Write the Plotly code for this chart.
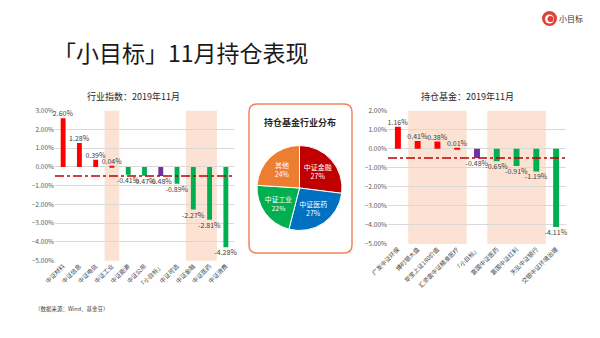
import plotly.graph_objects as go

# ---------------- data ----------------
left_cats = ["中证材料", "中证信息", "中证电信", "中证工业", "中证能源", "中证公用",
             "「小目标」", "中证可选", "中证金融", "中证医药", "中证消费"]
left_vals = [2.60, 1.28, 0.39, 0.04, -0.41, -0.47, -0.48, -0.89, -2.27, -2.81, -4.28]
left_shade = [3, 8, 9]

right_cats = ["广发中证环保", "博时银大盘", "华宝上证180价值", "汇添富中证精准医疗",
              "「小目标」", "富国中证医药", "富国中证红利", "天弘中证银行", "交银中证环境治理"]
right_vals = [1.16, 0.41, 0.38, 0.01, -0.48, -0.65, -0.91, -1.19, -4.11]
right_shade = [1, 2, 3, 5, 6, 7]

pie_labels = ["中证金融", "中证医药", "中证工业", "其他"]
pie_vals = [27, 27, 22, 24]
pie_colors = ["#C00000", "#0070C0", "#00B050", "#ED7D31"]

benchmark = -0.48
W, H = 600, 338
FONT = "Noto Sans CJK SC"

RED, GREEN, PURPLE = "#FF0000", "#00B050", "#7030A0"
SHADE = "#FBE2D3"


def bar_colors(cats, vals):
    out = []
    for c, v in zip(cats, vals):
        if c == "「小目标」":
            out.append(PURPLE)
        elif v >= 0:
            out.append(RED)
        else:
            out.append(GREEN)
    return out


def runs(idx):
    """group consecutive category indices into (start, end) runs"""
    out = []
    for i in sorted(idx):
        if out and i == out[-1][1] + 1:
            out[-1][1] = i
        else:
            out.append([i, i])
    return out


def px(x):
    return x / W


def py(y):
    return 1 - y / H


fig = go.Figure()

fig.add_trace(go.Bar(
    x=left_cats, y=left_vals, marker_color=bar_colors(left_cats, left_vals),
    width=0.3, text=[f"{v:.2f}%" for v in left_vals], textposition="outside",
    textfont=dict(size=7, color="#404040", family=FONT), cliponaxis=False,
    constraintext="none", xaxis="x", yaxis="y", showlegend=False, hoverinfo="skip"))

fig.add_trace(go.Bar(
    x=right_cats, y=right_vals, marker_color=bar_colors(right_cats, right_vals),
    width=0.3, text=[f"{v:.2f}%" for v in right_vals], textposition="outside",
    textfont=dict(size=7, color="#404040", family=FONT), cliponaxis=False,
    constraintext="none", xaxis="x2", yaxis="y2", showlegend=False, hoverinfo="skip"))

fig.add_trace(go.Pie(
    labels=pie_labels, values=pie_vals, sort=False, direction="clockwise", rotation=0,
    marker=dict(colors=pie_colors, line=dict(color="white", width=1)),
    texttemplate="%{label}<br>%{value}%", textposition="inside",
    insidetextorientation="horizontal",
    textfont=dict(size=7, color="white", family=FONT),
    domain=dict(x=[px(257), px(342)], y=[py(230.5), py(145.5)]),
    showlegend=False, hoverinfo="skip"))

shapes = []
# shaded bands
for a, b in runs(left_shade):
    shapes.append(dict(type="rect", xref="x", yref="y domain", x0=a - 0.45, x1=b + 0.45,
                       y0=0, y1=1, fillcolor=SHADE, line_width=0, layer="below"))
for a, b in runs(right_shade):
    shapes.append(dict(type="rect", xref="x2", yref="y2 domain", x0=a - 0.48, x1=b + 0.48,
                       y0=0, y1=1, fillcolor=SHADE, line_width=0, layer="below"))
# benchmark lines
shapes.append(dict(type="line", xref="x domain", yref="y", x0=0, x1=1, y0=benchmark, y1=benchmark,
                   line=dict(color="#C00000", width=1.5, dash="dashdot"), layer="above"))
shapes.append(dict(type="line", xref="x2 domain", yref="y2", x0=0, x1=1, y0=benchmark, y1=benchmark,
                   line=dict(color="#C00000", width=1.5, dash="dashdot"), layer="above"))

# rounded box around pie
x0, x1, y0, y1, r = 249, 352, 104, 253, 8
path = (f"M {px(x0 + r)} {py(y0)} L {px(x1 - r)} {py(y0)} Q {px(x1)} {py(y0)} {px(x1)} {py(y0 + r)} "
        f"L {px(x1)} {py(y1 - r)} Q {px(x1)} {py(y1)} {px(x1 - r)} {py(y1)} "
        f"L {px(x0 + r)} {py(y1)} Q {px(x0)} {py(y1)} {px(x0)} {py(y1 - r)} "
        f"L {px(x0)} {py(y0 + r)} Q {px(x0)} {py(y0)} {px(x0 + r)} {py(y0)} Z")
shapes.append(dict(type="path", xref="paper", yref="paper", path=path,
                   line=dict(color="#F0845C", width=1.5), fillcolor="rgba(0,0,0,0)"))

# logo
shapes.append(dict(type="circle", xref="paper", yref="paper", x0=px(542), x1=px(557),
                   y0=py(26), y1=py(11), fillcolor="#E0403A", line_width=0))
shapes.append(dict(type="circle", xref="paper", yref="paper", x0=px(545), x1=px(554),
                   y0=py(23.5), y1=py(14.5), fillcolor="white", line_width=0))
shapes.append(dict(type="circle", xref="paper", yref="paper", x0=px(547.5), x1=px(553.5),
                   y0=py(22), y1=py(16), fillcolor="#E0403A", line_width=0))

annotations = [
    dict(text="「小目标」11月持仓表现", xref="paper", yref="paper", x=px(51), y=py(52),
         xanchor="left", yanchor="middle", showarrow=False,
         font=dict(size=23, color="#1a1a1a", family=FONT)),
    dict(text="行业指数：2019年11月", xref="paper", yref="paper", x=px(133), y=py(96),
         xanchor="center", yanchor="middle", showarrow=False,
         font=dict(size=9, color="#262626", family=FONT)),
    dict(text="持仓基金：2019年11月", xref="paper", yref="paper", x=px(467), y=py(96),
         xanchor="center", yanchor="middle", showarrow=False,
         font=dict(size=9, color="#262626", family=FONT)),
    dict(text="<b>持仓基金行业分布</b>", xref="paper", yref="paper", x=px(300), y=py(123),
         xanchor="center", yanchor="middle", showarrow=False,
         font=dict(size=9, color="#262626", family=FONT)),
    dict(text="（数据来源：Wind、基金豆）", xref="paper", yref="paper", x=px(33), y=py(309),
         xanchor="left", yanchor="middle", showarrow=False,
         font=dict(size=5.5, color="#404040", family=FONT)),
    dict(text="小目标", xref="paper", yref="paper", x=px(557), y=py(19),
         xanchor="left", yanchor="middle", showarrow=False,
         font=dict(size=8, color="#333333", family=FONT)),
]

axis_common = dict(showline=False, zeroline=False, ticks="", fixedrange=True, automargin=False)
fig.update_layout(
    template="none",
    width=W, height=H, autosize=False,
    margin=dict(l=0, r=0, t=0, b=0, pad=0),
    paper_bgcolor="white", plot_bgcolor="rgba(0,0,0,0)",
    font=dict(family=FONT),
    xaxis=dict(domain=[px(55), px(234)], anchor="y", showgrid=False, tickangle=-45,
               tickfont=dict(size=6, color="#404040", family=FONT),
               range=[-0.5, len(left_cats) - 0.5], **axis_common),
    yaxis=dict(domain=[py(260.7), py(110.7)], anchor="x", range=[-5, 3], dtick=1,
               tickformat=".2f", ticksuffix="%", showgrid=True, gridcolor="#D9D9D9",
               gridwidth=1, tickfont=dict(size=6.5, color="#595959", family=FONT),
               **axis_common),
    xaxis2=dict(domain=[px(388), px(566)], anchor="y2", showgrid=False, tickangle=-45,
                tickfont=dict(size=6, color="#404040", family=FONT),
                range=[-0.5, len(right_cats) - 0.5], **axis_common),
    yaxis2=dict(domain=[py(244), py(110.7)], anchor="x2", range=[-5, 2], dtick=1,
                tickformat=".2f", ticksuffix="%", showgrid=True, gridcolor="#D9D9D9",
                gridwidth=1, tickfont=dict(size=6.5, color="#595959", family=FONT),
                **axis_common),
    shapes=shapes,
    annotations=annotations,
)

fig.write_html("out.html")
